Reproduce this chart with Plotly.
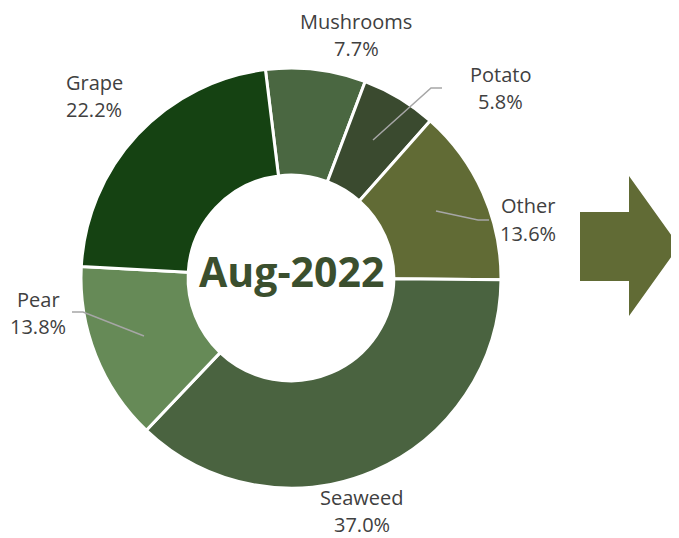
import plotly.graph_objects as go

# page has an 8px body margin; figure sized to fit the 679x538 window
OX, OY = 8, 8
W, H = 679 - OX, 538 - OY

categories = ["Mushrooms", "Potato", "Other", "Seaweed", "Pear", "Grape"]
values = [7.7, 5.8, 13.6, 37.0, 13.8, 22.2]
colors = ["#4a6741", "#3a4a2f", "#616b35", "#4a6340", "#668a57", "#154212"]
center_label = "Aug-2022"

def px(x):
    return (x - OX) / W

def py(y):
    return 1 - (y - OY) / H

fig = go.Figure()
fig.add_trace(go.Pie(
    labels=categories,
    values=values,
    sort=False,
    direction="clockwise",
    rotation=-7,
    hole=0.49,
    marker=dict(colors=colors, line=dict(color="white", width=3)),
    textinfo="none",
    showlegend=False,
    domain=dict(x=[px(81), px(501)], y=[py(488), py(68)]),
))

# label positions (pixel centers of name line; percent line 28px below)
label_pos = {
    "Mushrooms": (356, 22),
    "Potato": (500, 75),
    "Other": (528, 206),
    "Seaweed": (362, 497),
    "Pear": (38, 299),
    "Grape": (94, 83),
}
label_font = dict(family="Open Sans", size=20, color="#404040")
annotations = []
for cat, val in zip(categories, values):
    x, y = label_pos[cat]
    annotations.append(dict(
        x=px(x), y=py(y), xref="paper", yref="paper",
        text=cat, showarrow=False, font=label_font, borderpad=0,
        xanchor="center", yanchor="middle",
    ))
    annotations.append(dict(
        x=px(x), y=py(y + 27), xref="paper", yref="paper",
        text=f"{val:.1f}%", showarrow=False, font=label_font, borderpad=0,
        xanchor="center", yanchor="middle",
    ))
annotations.append(dict(
    x=px(291), y=py(271), xref="paper", yref="paper",
    text=f"<b>{center_label}</b>", showarrow=False,
    font=dict(family="Open Sans", size=41, color="#3b4f2e"),
    xanchor="center", yanchor="middle",
))

def path(points):
    return "M " + " L ".join(f"{px(x)},{py(y)}" for x, y in points)

shapes = []
leaders = [
    [(373, 140), (431, 88), (442, 88)],
    [(436, 211), (478, 220), (489, 220)],
    [(144, 336), (83, 312), (72, 312)],
]
for pts in leaders:
    shapes.append(dict(type="path", xref="paper", yref="paper", path=path(pts),
                       line=dict(color="#a6a6a6", width=1.5)))

arrow = [(580, 212), (629, 212), (629, 176), (679, 246), (629, 316), (629, 281), (580, 281)]
shapes.append(dict(type="path", xref="paper", yref="paper", path=path(arrow) + " Z",
                   fillcolor="#616b35", line=dict(width=0)))

fig.update_layout(
    width=W, height=H,
    margin=dict(l=0, r=0, t=0, b=0),
    paper_bgcolor="white", plot_bgcolor="white",
    annotations=annotations,
    shapes=shapes,
)

fig.write_html("out.html")
